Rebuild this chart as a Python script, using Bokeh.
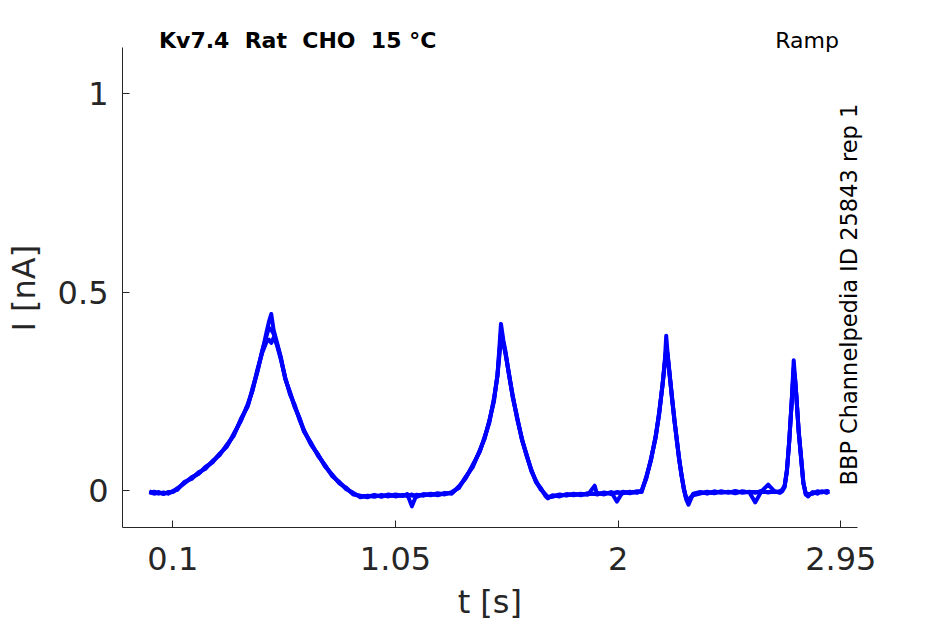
from bokeh.plotting import figure
from bokeh.models import Range1d, FixedTicker, Label, NumeralTickFormatter
from bokeh.embed import file_html
from bokeh.resources import INLINE

# ---- data ----
T = [0.00, 0.02, 0.04, 0.06, 0.08, 0.10, 0.12,
     0.15, 0.18, 0.21, 0.24, 0.27, 0.30, 0.33, 0.36, 0.39, 0.42, 0.44, 0.46, 0.48, 0.50, 0.51, 0.52,
     0.53, 0.545, 0.56, 0.58, 0.60, 0.62, 0.64, 0.66, 0.69, 0.72, 0.75, 0.78, 0.81, 0.84, 0.87, 0.90,
     0.93, 0.96, 0.99, 1.02, 1.05, 1.08, 1.10, 1.12, 1.14, 1.17, 1.20, 1.23, 1.26, 1.29,
     1.32, 1.35, 1.38, 1.41, 1.43, 1.45, 1.47, 1.485, 1.50,
     1.51, 1.52, 1.535, 1.55, 1.57, 1.59, 1.61, 1.63, 1.65, 1.67, 1.69, 1.70,
     1.72, 1.75, 1.78, 1.81, 1.84, 1.87, 1.90, 1.91, 1.94, 1.97, 1.995, 2.02, 2.05, 2.08,
     2.10, 2.12, 2.14, 2.16, 2.175, 2.19, 2.20, 2.205,
     2.21, 2.22, 2.23, 2.24, 2.25, 2.26, 2.27, 2.28, 2.29, 2.30, 2.32,
     2.35, 2.38, 2.41, 2.44, 2.47, 2.50, 2.53, 2.56, 2.585, 2.61, 2.64, 2.67, 2.69,
     2.70, 2.71, 2.72, 2.73, 2.74, 2.749,
     2.755, 2.76, 2.77, 2.78, 2.79, 2.80, 2.81, 2.83, 2.85, 2.87, 2.89, 2.90]

SWEEP_1 = [-0.002, -0.006, -0.004, -0.009, -0.004, -0.003, 0.006,
           0.018, 0.033, 0.042, 0.060, 0.071, 0.093, 0.110, 0.143, 0.175, 0.218, 0.252, 0.303, 0.345, 0.400, 0.425, 0.445,
           0.405, 0.372, 0.338, 0.280, 0.248, 0.210, 0.184, 0.148, 0.120, 0.087, 0.064, 0.036, 0.022, 0.003, -0.006, -0.017,
           -0.013, -0.016, -0.011, -0.015, -0.010, -0.014, -0.009, -0.040, -0.011, -0.013, -0.008, -0.012, -0.006, -0.008,
           0.010, 0.031, 0.065, 0.098, 0.135, 0.170, 0.232, 0.288, 0.420,
           0.380, 0.348, 0.288, 0.240, 0.178, 0.130, 0.086, 0.052, 0.020, 0.006, -0.014, -0.020,
           -0.012, -0.015, -0.009, -0.012, -0.008, -0.011, 0.012, -0.010, -0.005, -0.009, -0.004, -0.007, -0.003, -0.006,
           0.000, 0.030, 0.080, 0.133, 0.198, 0.268, 0.335, 0.390,
           0.352, 0.292, 0.230, 0.180, 0.126, 0.082, 0.038, 0.007, -0.022, -0.036, -0.008,
           -0.004, -0.008, -0.002, -0.006, -0.003, -0.007, -0.002, -0.005, -0.030, -0.003, 0.015, -0.004, -0.002,
           0.002, 0.012, 0.052, 0.123, 0.222, 0.328,
           0.282, 0.238, 0.152, 0.083, 0.022, -0.010, -0.015, -0.004, -0.008, -0.002, -0.006, -0.002]

SWEEP_2 = [-0.006, -0.003, -0.008, -0.005, -0.008, -0.001, 0.002,
           0.022, 0.029, 0.046, 0.055, 0.075, 0.089, 0.115, 0.138, 0.180, 0.212, 0.258, 0.297, 0.350, 0.390, 0.410, 0.405,
           0.395, 0.365, 0.332, 0.284, 0.242, 0.216, 0.179, 0.152, 0.115, 0.091, 0.060, 0.040, 0.018, 0.007, -0.010, -0.013,
           -0.017, -0.011, -0.016, -0.010, -0.015, -0.011, -0.014, -0.010, -0.016, -0.009, -0.012, -0.007, -0.010, -0.004,
           0.006, 0.035, 0.059, 0.102, 0.130, 0.176, 0.224, 0.292, 0.395,
           0.372, 0.342, 0.292, 0.235, 0.183, 0.126, 0.090, 0.048, 0.024, 0.002, -0.010, -0.016,
           -0.016, -0.010, -0.013, -0.008, -0.012, -0.007, -0.009, -0.006, -0.010, -0.004, -0.028, -0.003, -0.007, -0.002,
           -0.004, 0.035, 0.076, 0.138, 0.192, 0.272, 0.325, 0.360,
           0.345, 0.288, 0.235, 0.175, 0.131, 0.078, 0.042, 0.003, -0.018, -0.022, -0.012,
           -0.008, -0.003, -0.007, -0.002, -0.006, -0.001, -0.006, -0.003, -0.006, -0.001, -0.005, -0.002, -0.006,
           -0.002, 0.008, 0.048, 0.128, 0.218, 0.310,
           0.276, 0.242, 0.148, 0.088, 0.018, -0.006, -0.009, -0.008, -0.002, -0.005, -0.001, -0.004]

SWEEP_3 = [-0.004, -0.008, -0.006, -0.007, -0.006, -0.004, 0.004,
           0.020, 0.032, 0.043, 0.058, 0.072, 0.092, 0.112, 0.140, 0.176, 0.215, 0.252, 0.298, 0.345, 0.375, 0.380, 0.372,
           0.385, 0.368, 0.336, 0.282, 0.246, 0.212, 0.182, 0.150, 0.117, 0.089, 0.062, 0.038, 0.020, 0.005, -0.008, -0.015,
           -0.014, -0.013, -0.014, -0.012, -0.013, -0.012, -0.011, -0.013, -0.012, -0.011, -0.010, -0.010, -0.008, -0.006,
           0.008, 0.033, 0.062, 0.100, 0.132, 0.173, 0.228, 0.290, 0.380,
           0.372, 0.345, 0.290, 0.238, 0.180, 0.128, 0.088, 0.050, 0.022, 0.004, -0.012, -0.018,
           -0.014, -0.012, -0.011, -0.010, -0.010, -0.009, -0.008, -0.008, -0.007, -0.006, -0.006, -0.005, -0.005, -0.004,
           -0.002, 0.032, 0.078, 0.135, 0.195, 0.270, 0.330, 0.350,
           0.345, 0.290, 0.232, 0.178, 0.128, 0.080, 0.040, 0.005, -0.020, -0.025, -0.010,
           -0.006, -0.005, -0.005, -0.004, -0.004, -0.004, -0.004, -0.004, -0.004, -0.004, -0.004, -0.004, -0.003,
           0.000, 0.010, 0.050, 0.125, 0.220, 0.300,
           0.280, 0.240, 0.150, 0.085, 0.020, -0.008, -0.012, -0.006, -0.004, -0.003, -0.004, -0.003]

X_TICKS = [0.1, 1.05, 2, 2.95]
Y_TICKS = [0, 0.5, 1]
X_AXIS_LIMITS = (-0.1146, 3.0211)   # extent of the drawn x axis
Y_AXIS_LIMITS = (-0.0933, 1.1175)   # extent of the drawn y axis
X_VIEW = (-0.1146, 3.0467)          # visible area (room for the side text)
Y_VIEW = (-0.0933, 1.1696)          # visible area (room for the header texts)

TITLE = "Kv7.4\u00a0 Rat\u00a0 CHO\u00a0 15 °C"
PROTOCOL = "Ramp"
SOURCE = "BBP Channelpedia ID 25843 rep 1"
X_LABEL = "t [s]\u2009"
Y_LABEL = "I [nA]\u2002\u2009"

AX = "#262626"
FONT = "DejaVu Sans"

p = figure(width=929, height=624,
           min_border_left=122, min_border_right=66, min_border_top=26, min_border_bottom=97,
           x_range=Range1d(*X_VIEW), y_range=Range1d(*Y_VIEW),
           output_backend="svg", toolbar_location=None, title=None,
           x_axis_label=X_LABEL, y_axis_label=Y_LABEL)
p.outline_line_color = None
p.grid.visible = False
p.background_fill_color = "white"
p.border_fill_color = "white"

for sweep in (SWEEP_3, SWEEP_2, SWEEP_1):
    p.line(T, sweep, line_color="#0000ff", line_width=4, line_join="round")

p.xaxis.ticker = FixedTicker(ticks=X_TICKS)
p.yaxis.ticker = FixedTicker(ticks=Y_TICKS)
p.xaxis.bounds = X_AXIS_LIMITS
p.yaxis.bounds = Y_AXIS_LIMITS
for ax in (p.xaxis[0], p.yaxis[0]):
    ax.formatter = NumeralTickFormatter(format="0.[00]")
    ax.axis_line_color = AX
    ax.axis_line_width = 1
    ax.major_tick_in = 7
    ax.major_tick_out = 0
    ax.major_tick_line_color = AX
    ax.minor_tick_line_color = None
    ax.major_label_text_font = FONT
    ax.major_label_text_font_size = "32px"
    ax.major_label_text_color = AX
    ax.axis_label_text_font = FONT
    ax.axis_label_text_font_size = "32px"
    ax.axis_label_text_font_style = "normal"
    ax.axis_label_text_color = AX
p.xaxis[0].major_label_standoff = 19
p.xaxis[0].axis_label_standoff = 10
p.yaxis[0].major_label_standoff = 14
p.yaxis[0].axis_label_standoff = 12

p.add_layout(Label(x=0.0411, y=1.1351, text=TITLE, text_font=FONT, text_font_style="bold",
                   text_font_size="22px", text_color="black", text_align="left",
                   text_baseline="alphabetic"))
p.add_layout(Label(x=2.9421, y=1.1351, text=PROTOCOL, text_font=FONT,
                   text_font_size="22px", text_color="black", text_align="right",
                   text_baseline="alphabetic"))
p.add_layout(Label(x=2.9869, y=0.0126, text=SOURCE, text_font=FONT, angle=1.5708,
                   text_font_size="22.5px", text_color="black", text_align="left",
                   text_baseline="alphabetic"))

open("out.html", "w").write(file_html(p, INLINE))
